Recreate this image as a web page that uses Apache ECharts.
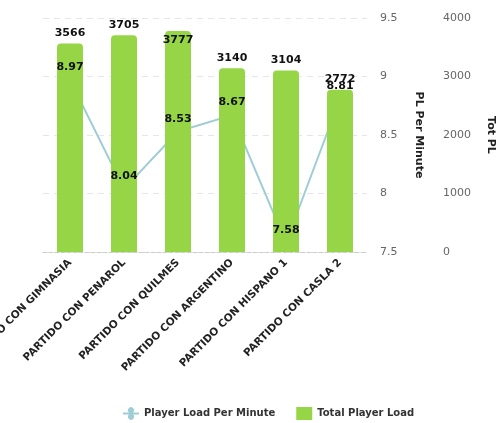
<!DOCTYPE html>
<html><head><meta charset="utf-8">
<script src="https://cdn.jsdelivr.net/npm/echarts@6/dist/echarts.min.js"></script>
<style>html,body{margin:0;padding:0;background:#fff}#c{width:496px;height:423px}</style>
</head><body><div id="c"></div>
<script>
const categories = ['PARTIDO CON GIMNASIA','PARTIDO CON PENAROL','PARTIDO CON QUILMES','PARTIDO CON ARGENTINO','PARTIDO CON HISPANO 1','PARTIDO CON CASLA 2'];
const plPerMinute = [8.97, 8.04, 8.53, 8.67, 7.58, 8.81];
const totalPL = [3566, 3705, 3777, 3140, 3104, 2772];
const plTicks = [7.5, 8, 8.5, 9, 9.5];
const totTicks = [0, 1000, 2000, 3000, 4000];

const FONT = 'DejaVu Sans';
const chart = echarts.init(document.getElementById('c'));
chart.setOption({
  animation: false,
  textStyle: {fontFamily: FONT},
  grid: {left: 43, right: 129, top: 18, bottom: 171, containLabel: false, outerBoundsMode: 'none'},
  legend: {
    top: 402, left: 118, itemGap: 21, itemWidth: 16, itemHeight: 13,
    textStyle: {fontFamily: FONT, fontWeight: 'bold', fontSize: 10, color: '#333'},
    data: [{name: 'Player Load Per Minute', icon: 'path://M0,5.5 L6,5.5 A3,3 0 1 1 10,5.5 L16,5.5 L16,7.5 L10,7.5 A3,3 0 1 1 6,7.5 L0,7.5 Z'}, {name: 'Total Player Load', icon: 'rect'}]
  },
  xAxis: {
    type: 'category', data: categories,
    axisLine: {lineStyle: {color: '#ccc', type: 'dashed'}},
    axisTick: {length: 6, lineStyle: {color: '#ccc', type: 'dashed'}},
    axisLabel: {rotate: 45, fontWeight: 'bold', fontSize: 10.5, color: '#222', margin: 9, fontFamily: FONT}
  },
  yAxis: [
    {
      type: 'value', position: 'right', min: plTicks[0], max: plTicks[plTicks.length-1], interval: 0.5,
      name: 'PL Per Minute', nameLocation: 'middle', nameRotate: -90, nameGap: 46,
      nameTextStyle: {fontWeight: 'bold', fontSize: 11, color: '#222', fontFamily: FONT},
      axisLine: {show: false}, axisTick: {show: false},
      axisLabel: {color: '#666', fontSize: 11, margin: 13, fontFamily: FONT, formatter: v => String(v)},
      splitLine: {lineStyle: {color: '#e6e6e6', type: [6, 5]}}
    },
    {
      type: 'value', position: 'right', offset: 63, min: totTicks[0], max: totTicks[totTicks.length-1], interval: 1000,
      name: 'Tot PL', nameLocation: 'middle', nameRotate: -90, nameGap: 55,
      nameTextStyle: {fontWeight: 'bold', fontSize: 11, color: '#222', fontFamily: FONT},
      axisLine: {show: false}, axisTick: {show: false},
      axisLabel: {color: '#666', fontSize: 11, margin: 13, fontFamily: FONT, formatter: v => String(v)},
      splitLine: {show: false}
    }
  ],
  series: [
    {
      name: 'Player Load Per Minute', type: 'line', yAxisIndex: 0, z: 1,
      data: plPerMinute, symbol: 'circle', symbolSize: 6,
      itemStyle: {color: '#9fcdd5'}, lineStyle: {color: '#9fcdd5', width: 2}
    },
    {
      name: 'Total Player Load', type: 'bar', yAxisIndex: 1, z: 2, barWidth: 26,
      data: totalPL.map((v, i) => i === 2 ? {value: v, label: {position: 'insideTop', distance: 4}} : v),
      itemStyle: {color: '#96d545', borderRadius: [4, 4, 0, 0]},
      label: {show: true, position: 'top', distance: 5, fontWeight: 'bold', fontSize: 11, color: '#111', fontFamily: FONT}
    },
    {
      name: 'labels', type: 'line', yAxisIndex: 0, z: 3, data: plPerMinute,
      symbol: 'circle', symbolSize: 2, showSymbol: true, itemStyle: {color: 'rgba(0,0,0,0)'},
      lineStyle: {width: 0, color: 'rgba(0,0,0,0)'}, silent: true,
      label: {show: true, position: 'top', distance: 6, fontWeight: 'bold', fontSize: 11, color: '#111', fontFamily: FONT}
    }
  ]
});
</script></body></html>
